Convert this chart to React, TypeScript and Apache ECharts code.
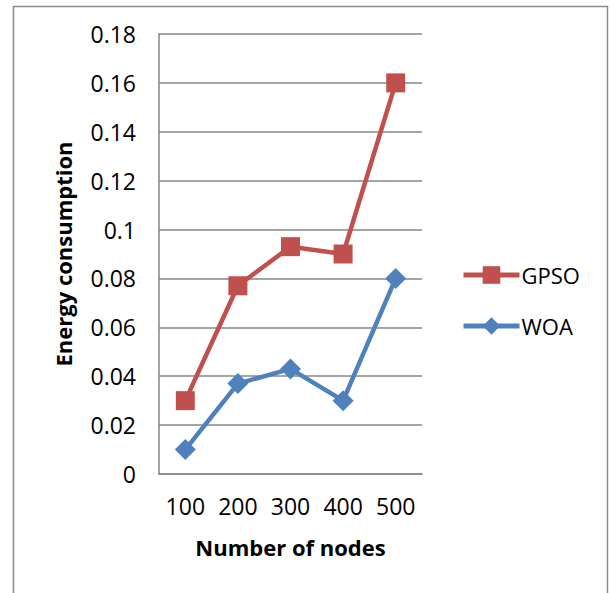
import React, { useEffect, useRef } from "react";
import * as echarts from "echarts";

const categories = ["100", "200", "300", "400", "500"];
const gpso = [0.03, 0.077, 0.093, 0.09, 0.16];
const woa = [0.01, 0.037, 0.043, 0.03, 0.08];
const yTicks = { min: 0, max: 0.18, interval: 0.02 };

const FONT = "Open Sans";

export default function App() {
  const ref = useRef<HTMLDivElement>(null);
  useEffect(() => {
    if (!ref.current) return;
    const chart = echarts.init(ref.current, null, { renderer: "svg" });
    chart.setOption({
      animation: false,
      backgroundColor: "#ffffff",
      textStyle: { fontFamily: FONT },
      graphic: [
        {
          type: "rect",
          shape: { x: 13.5, y: 6.5, width: 594, height: 620 },
          style: { fill: "none", stroke: "#8c8c8c", lineWidth: 1.5 },
          silent: true,
        },
      ],
      grid: { left: 159, right: 189, top: 34, bottom: 119 },
      legend: {
        orient: "vertical",
        left: 461,
        top: 264,
        padding: 0,
        itemWidth: 56,
        itemHeight: 22,
        itemGap: 29,
        lineStyle: { width: 5 },
        textStyle: { fontFamily: FONT, fontSize: 22, color: "#000", padding: [0, 0, 0, -3] },
        data: ["GPSO", "WOA"],
      },
      xAxis: {
        type: "category",
        data: categories,
        boundaryGap: true,
        name: "Number of nodes",
        nameLocation: "middle",
        nameGap: 62,
        nameTextStyle: { fontFamily: FONT, fontSize: 22, fontWeight: "bold", color: "#000" },
        axisLine: { lineStyle: { color: "#868686", width: 1.5 } },
        axisTick: { show: false },
        axisLabel: { fontFamily: FONT, fontSize: 23, color: "#000", margin: 20 },
      },
      yAxis: {
        type: "value",
        min: yTicks.min,
        max: yTicks.max,
        interval: yTicks.interval,
        name: "Energy consumption",
        nameLocation: "middle",
        nameGap: 85,
        nameTextStyle: { fontFamily: FONT, fontSize: 22, fontWeight: "bold", color: "#000" },
        axisLine: { show: true, lineStyle: { color: "#868686", width: 1.5 } },
        axisTick: { show: false },
        splitLine: { lineStyle: { color: "#868686", width: 1.5 } },
        axisLabel: {
          fontFamily: FONT,
          fontSize: 23,
          color: "#000",
          margin: 23,
          formatter: (v: number) => String(parseFloat(v.toFixed(2))),
        },
      },
      series: [
        {
          name: "GPSO",
          type: "line",
          data: gpso,
          symbol: "rect",
          symbolSize: 19,
          lineStyle: { color: "#C0504D", width: 4.5 },
          itemStyle: { color: "#C0504D" },
        },
        {
          name: "WOA",
          type: "line",
          data: woa,
          symbol: "diamond",
          symbolSize: 21,
          lineStyle: { color: "#4F81BD", width: 4.5 },
          itemStyle: { color: "#4F81BD" },
        },
      ],
    });
    return () => chart.dispose();
  }, []);
  return (
    <div
      ref={ref}
      style={{ position: "absolute", left: 0, top: 0, width: 611, height: 593 }}
    />
  );
}
